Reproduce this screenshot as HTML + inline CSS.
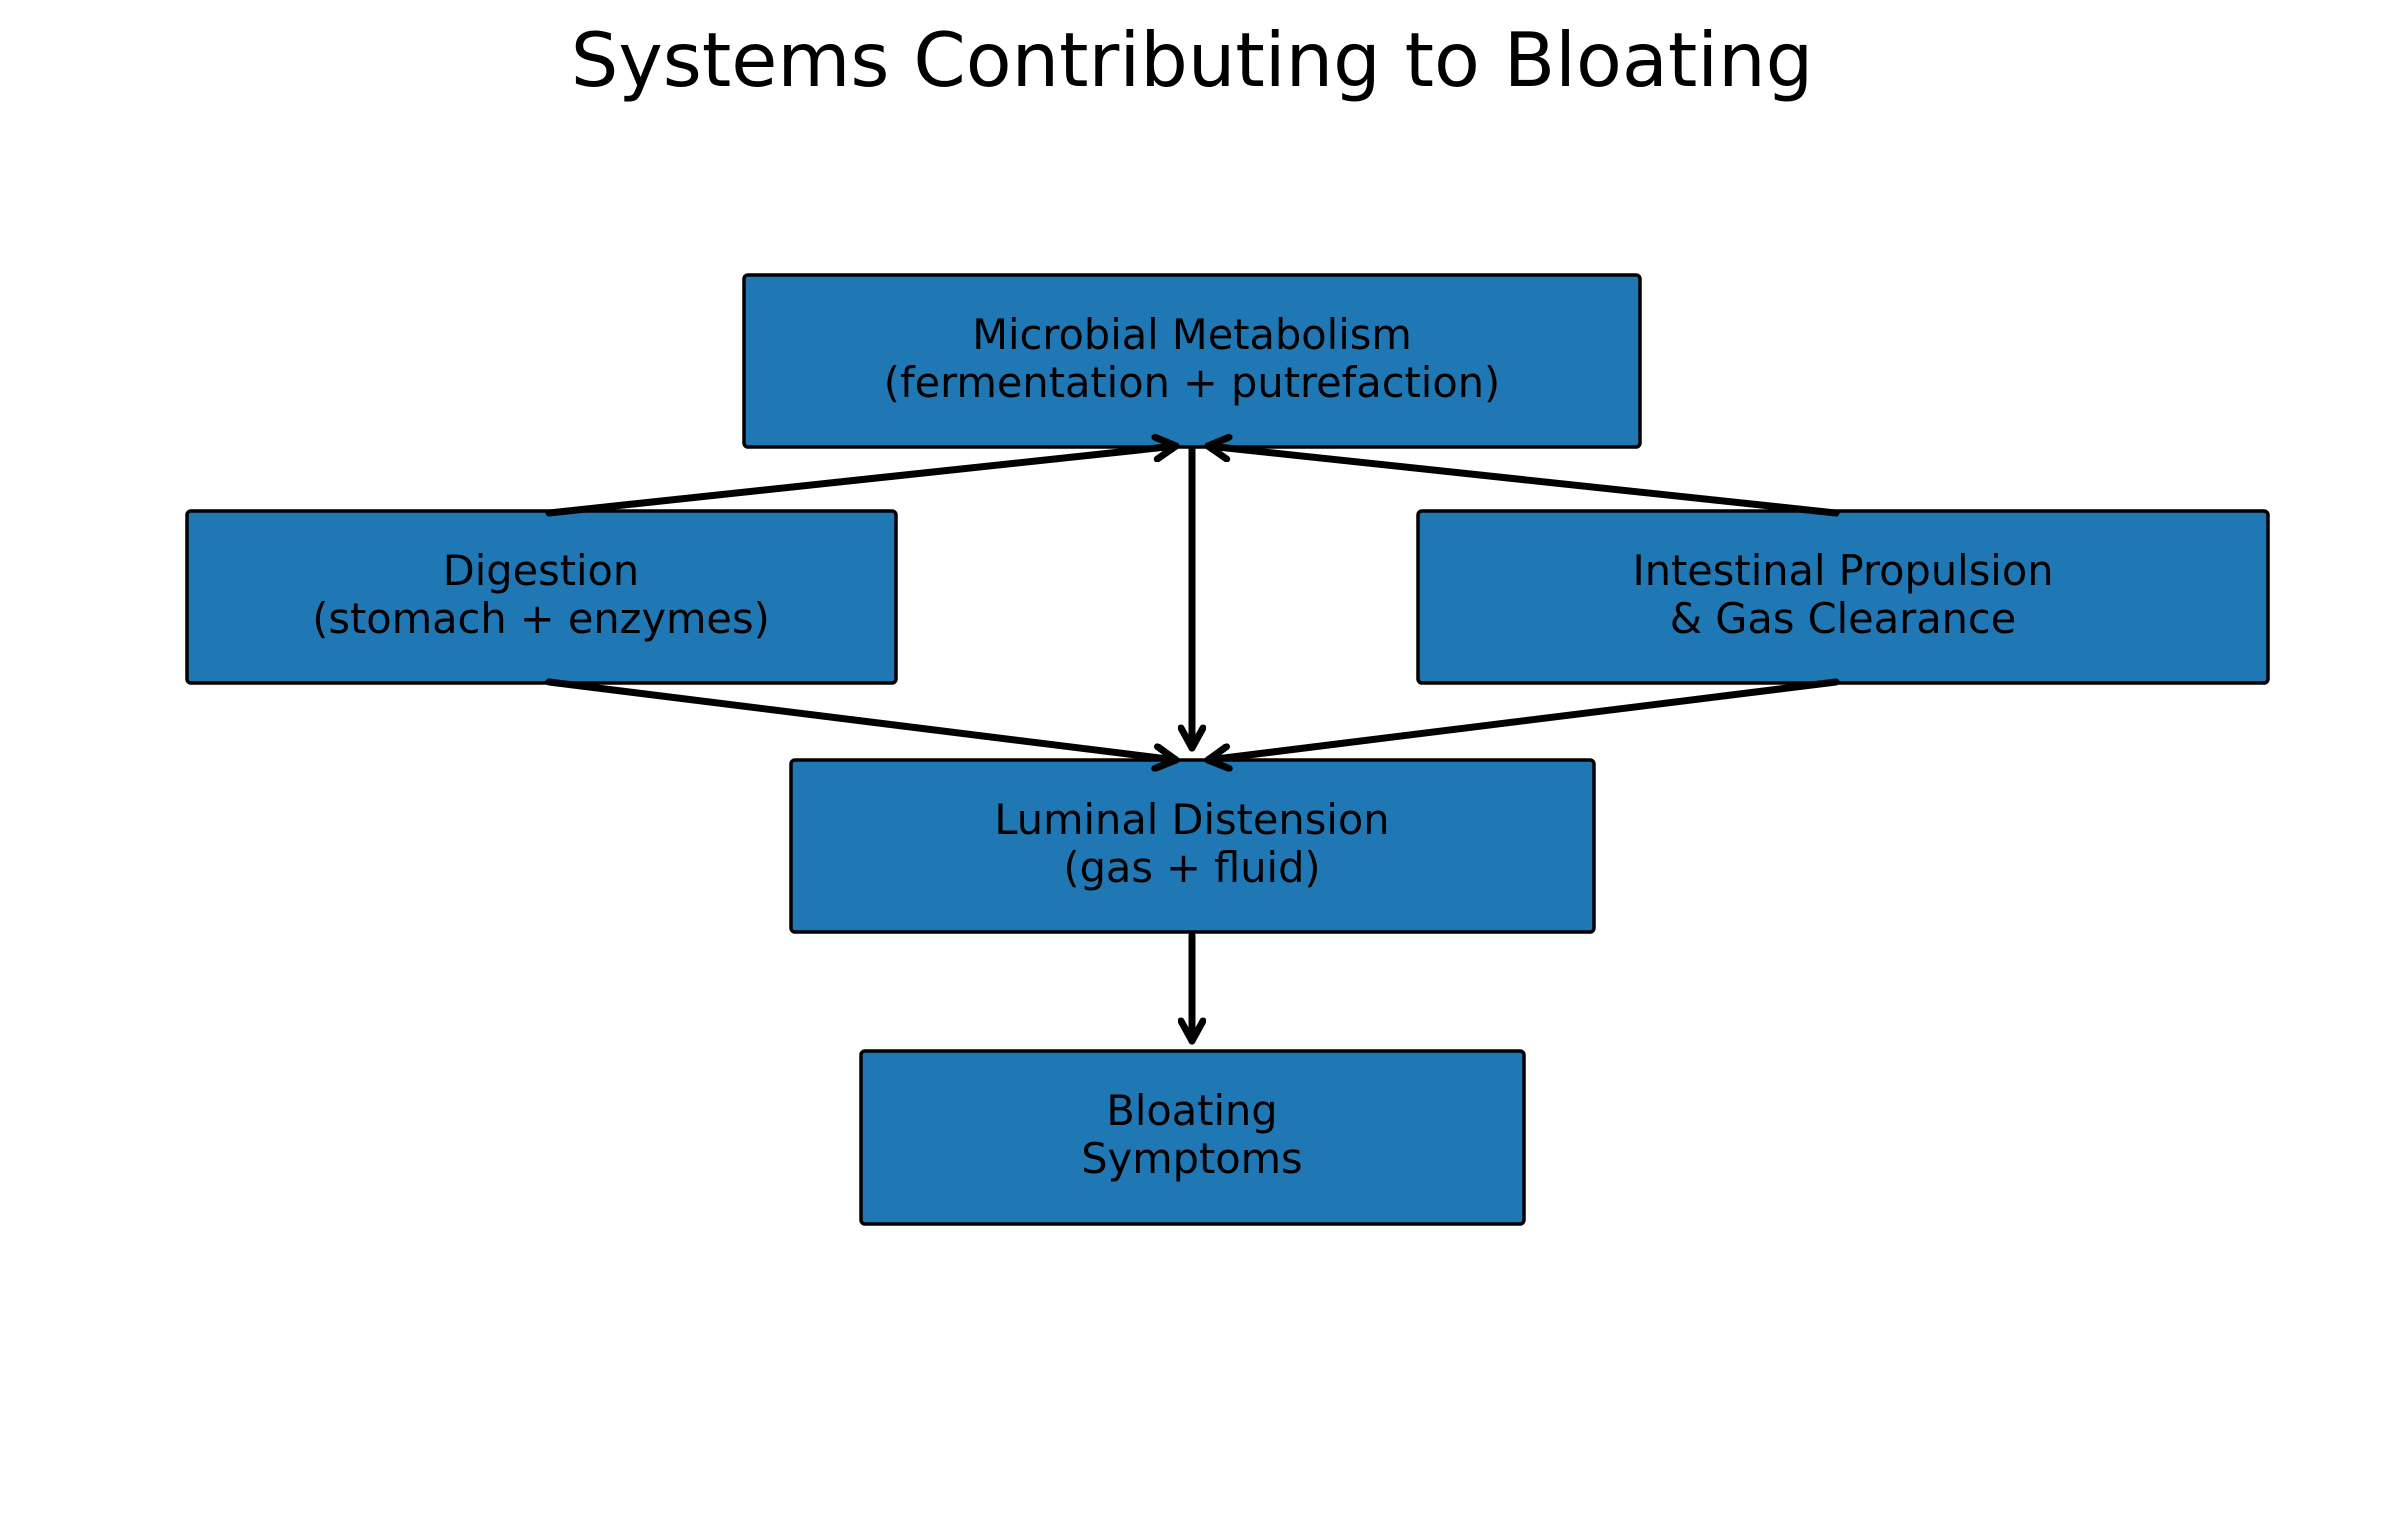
<!DOCTYPE html>
<html><head><meta charset="utf-8"><style>
html,body{margin:0;padding:0;background:#fff}
svg{display:block}
text{font-family:"DejaVu Sans","Liberation Sans",sans-serif;fill:#000}
</style></head><body>
<svg width="2385" height="1528" viewBox="0 0 2385 1528" xmlns="http://www.w3.org/2000/svg">
<defs>
<marker id="a" viewBox="-24 -14 28 28" refX="0" refY="0" markerWidth="28" markerHeight="28" markerUnits="userSpaceOnUse" orient="auto">
<path d="M-20,-11 L0,0 L-20,11" fill="none" stroke="#000" stroke-width="7" stroke-linecap="round" stroke-linejoin="round"/>
</marker>
</defs>
<text x="1192" y="86" font-size="75" text-anchor="middle">Systems Contributing to Bloating</text>
<g fill="#1f77b4" stroke="#000" stroke-width="3.5">
<rect x="744" y="275" width="896" height="172" rx="4"/>
<rect x="187" y="511" width="709" height="172" rx="4"/>
<rect x="1418" y="511" width="850" height="172" rx="4"/>
<rect x="791" y="760" width="803" height="172" rx="4"/>
<rect x="861" y="1051" width="663" height="173" rx="4"/>
</g>
<g font-size="41.5" text-anchor="middle">
<text x="1192" y="349">Microbial Metabolism</text>
<text x="1192" y="397">(fermentation + putrefaction)</text>
<text x="541" y="585">Digestion</text>
<text x="541" y="633">(stomach + enzymes)</text>
<text x="1843" y="585">Intestinal Propulsion</text>
<text x="1843" y="633">&amp; Gas Clearance</text>
<text x="1192" y="834">Luminal Distension</text>
<text x="1192" y="882">(gas + fluid)</text>
<text x="1192" y="1125">Bloating</text>
<text x="1192" y="1173">Symptoms</text>
</g>
<g stroke="#000" stroke-width="7" fill="none" stroke-linecap="round" marker-end="url(#a)">
<line x1="549" y1="513" x2="1176" y2="446"/>
<line x1="1836" y1="513" x2="1208" y2="446"/>
<line x1="1192" y1="449" x2="1192" y2="748"/>
<line x1="549" y1="682" x2="1176" y2="760"/>
<line x1="1836" y1="682" x2="1208" y2="760"/>
<line x1="1192" y1="935" x2="1192" y2="1041"/>
</g>
</svg>
</body></html>
